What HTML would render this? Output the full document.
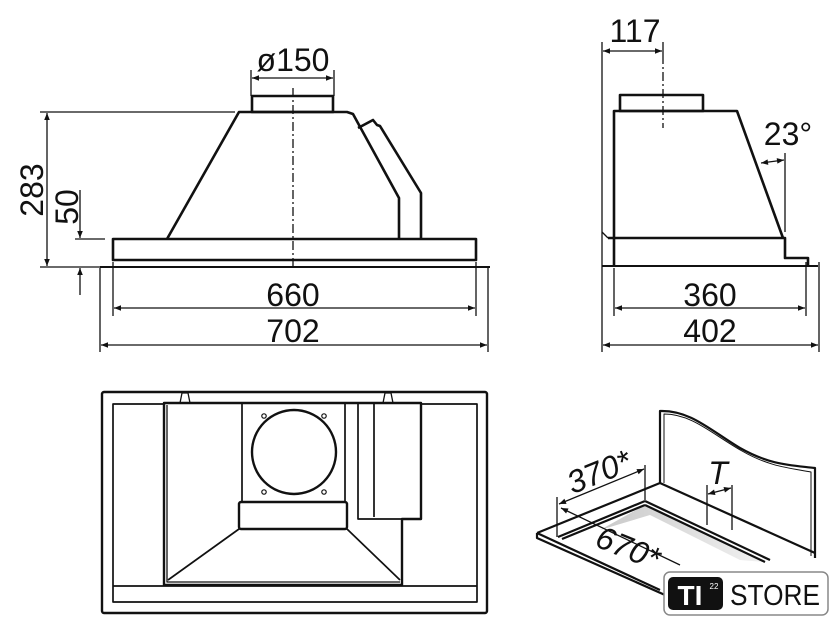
<!DOCTYPE html>
<html><head><meta charset="utf-8"><style>
html,body{margin:0;padding:0;background:#fff;}
svg{display:block;}
text{font-family:"Liberation Sans","DejaVu Sans",sans-serif;fill:#111;}
</style></head><body>
<svg width="840" height="635" viewBox="0 0 840 635" xmlns="http://www.w3.org/2000/svg">
<defs>
<marker id="a" viewBox="0 0 10 10" refX="10" refY="5" markerWidth="10" markerHeight="7" orient="auto-start-reverse" markerUnits="userSpaceOnUse"><path d="M0,1 L10,5 L0,9 z" fill="#111"/></marker>
<linearGradient id="g" x1="0" y1="0" x2="1" y2="0"><stop offset="0" stop-color="#bbb"/><stop offset="1" stop-color="#eee"/></linearGradient>
</defs>
<g stroke="#111" fill="none" stroke-width="2.6" stroke-linejoin="round">
<rect x="252" y="96" width="81" height="16"/>
<path d="M167,239 L239,112 L347,112 L353,114 L399,198 L399,239"/>
<path d="M358,128 L373,120 L377,125 L380,126 L421,193 L421,239"/>
<rect x="113" y="239" width="363" height="21"/>
<path d="M100,267 L490,267" stroke-width="2"/>
</g>
<g stroke="#111" fill="none" stroke-width="1.3">
<path d="M293,88 L293,270" stroke-dasharray="9,3,2,3"/>
<path d="M251,70 L251,96 M334,70 L334,96"/>
<path d="M252,78 L333,78" marker-start="url(#a)" marker-end="url(#a)"/>
<path d="M40,112 L235,112 M40,267 L110,267"/>
<path d="M47,113 L47,266" marker-start="url(#a)" marker-end="url(#a)"/>
<path d="M75,239 L105,239"/>
<path d="M80,190 L80,238" marker-end="url(#a)"/>
<path d="M80,295 L80,268" marker-end="url(#a)"/>
<path d="M113,262 L113,316 M476,262 L476,316 M100,268 L100,352 M488,268 L488,352"/>
<path d="M114,308 L475,308" marker-start="url(#a)" marker-end="url(#a)"/>
<path d="M101,345 L487,345" marker-start="url(#a)" marker-end="url(#a)"/>
</g>
<text x="293" y="71" font-size="32" text-anchor="middle">ø150</text>
<text x="293" y="306" font-size="32" text-anchor="middle">660</text>
<text x="293" y="342" font-size="32" text-anchor="middle">702</text>
<text transform="translate(43,190) rotate(-90)" font-size="32" text-anchor="middle">283</text>
<text transform="translate(78,207) rotate(-90)" font-size="32" text-anchor="middle">50</text>

<g stroke="#111" fill="none" stroke-width="2.6" stroke-linejoin="round">
<rect x="620" y="95" width="83" height="16"/>
<path d="M614,238 L614,111 L737,111 L783,238"/>
<path d="M608,238 L785,238 L785,258 L808,258 L808,266"/>
<path d="M614,238 L614,266"/>
<path d="M602,266 L818,266" stroke-width="2"/>
</g>
<g stroke="#111" fill="none" stroke-width="1.3">
<path d="M602,232 L608,238"/>
<path d="M663,55 L663,128" stroke-dasharray="9,3,2,3"/>
<path d="M602,42 L602,352 M663,42 L663,55"/>
<path d="M603,51 L662,51" marker-start="url(#a)" marker-end="url(#a)"/>
<path d="M785,153 L785,232"/>
<path d="M761,163 L784,160" marker-start="url(#a)" marker-end="url(#a)"/>
<path d="M614,268 L614,316 M806,262 L806,316 M819,262 L819,352"/>
<path d="M615,308 L805,308" marker-start="url(#a)" marker-end="url(#a)"/>
<path d="M603,345 L818,345" marker-start="url(#a)" marker-end="url(#a)"/>
</g>
<text x="635" y="42" font-size="32" text-anchor="middle">117</text>
<text x="788" y="145" font-size="32" text-anchor="middle">23°</text>
<text x="710" y="306" font-size="32" text-anchor="middle">360</text>
<text x="710" y="342" font-size="32" text-anchor="middle">402</text>

<g stroke="#111" fill="none" stroke-width="2.4" stroke-linejoin="round">
<rect x="102" y="392" width="385" height="221" rx="2"/>
<rect x="113" y="404" width="364" height="198" stroke-width="1.7"/>
<path d="M113,586 L477,586" stroke-width="1.7"/>
<path d="M164,403 L421,403 L421,519 L402,519 L402,585 L164,585 Z" fill="#fff"/>
<path d="M167,405 L167,582 L400,582" stroke-width="1.3"/>
<path d="M242,404 L242,502 M345,404 L345,502" stroke-width="1.7"/>
<circle cx="294" cy="452" r="42"/>
<rect x="239" y="502" width="108" height="27" rx="2"/>
<path d="M239,529 L168,580 M347,529 L400,580" stroke-width="1.7"/>
<path d="M358,404 L358,519 L402,519 M374,404 L374,517" stroke-width="1.7"/>
<path d="M180,403 L182,393 L188,393 L190,403 M383,403 L385,393 L391,393 L393,403" stroke-width="1.3"/>
</g>
<g stroke="#111" fill="none" stroke-width="1.2">
<circle cx="264" cy="416" r="2.2"/><circle cx="324" cy="416" r="2.2"/>
<circle cx="264" cy="492" r="2.2"/><circle cx="324" cy="492" r="2.2"/>
</g>

<path d="M645,505 L765,562 L740,560 L650,515 L600,530 Z" fill="url(#g)" opacity="0.8"/>
<g stroke="#111" fill="none" stroke-width="2.2" stroke-linejoin="round">
<path d="M660,483 L660,411 C690,410 710,430 740,448 C770,465 790,465 815,468 L815,558" fill="#fff"/>
<path d="M664,483 L664,414 C692,414 712,434 742,451 C770,467 790,468 811,472 L811,556" stroke-width="1"/>
<path d="M537,533 L660,483 L815,553"/>
<path d="M537,533 L537,538 L665,595"/>
<path d="M537,533 L660,590"/>
<path d="M645,501 L558,537 M645,505 L562,539"/>
<path d="M645,501 L770,560 M645,505 L765,562"/>
</g>
<g stroke="#111" fill="none" stroke-width="1.3">
<path d="M557,497 L557,537 M645,465 L645,500"/>
<path d="M559,504 L644,469" marker-start="url(#a)" marker-end="url(#a)"/>
<path d="M561,508 L680,565" marker-start="url(#a)"/>
<path d="M707,485 L707,525 M732,485 L732,530"/>
<path d="M708,494 L731,488" marker-start="url(#a)" marker-end="url(#a)"/>
</g>
<text transform="translate(603,482) rotate(-22)" font-size="32" text-anchor="middle" font-style="italic">370*</text>
<text transform="translate(624,558) rotate(22)" font-size="32" text-anchor="middle" font-style="italic">670*</text>
<text x="718" y="484" font-size="32" text-anchor="middle" font-style="italic">T</text>

<rect x="664" y="572" width="164" height="43" rx="6" fill="#fff" stroke="#888" stroke-width="1.5"/>
<rect x="668" y="577" width="55" height="33" rx="5" fill="#111"/>
<text x="690" y="605" font-size="28" font-weight="bold" text-anchor="middle" style="fill:#fff">TI</text>
<text x="714" y="589" font-size="8" text-anchor="middle" style="fill:#fff">22</text>
<text x="775" y="605" font-size="29" text-anchor="middle" textLength="90" lengthAdjust="spacingAndGlyphs">STORE</text>
</svg>
</body></html>
